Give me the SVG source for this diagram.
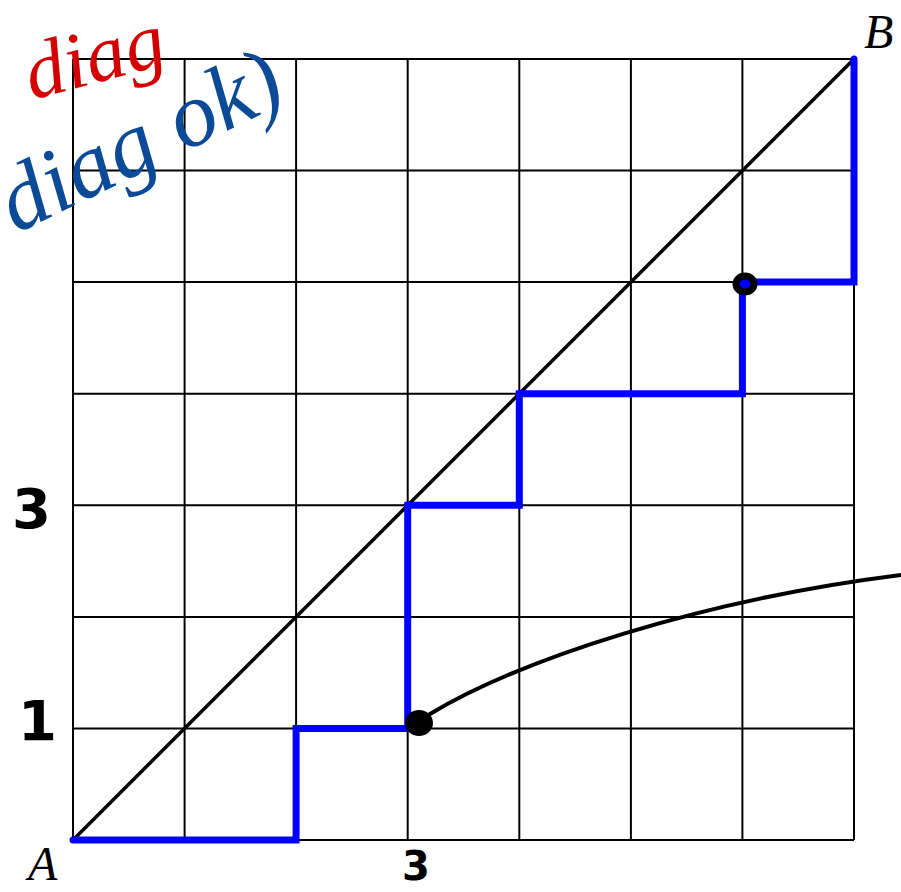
<svg xmlns="http://www.w3.org/2000/svg" width="901" height="892" viewBox="0 0 901 892">
<style>
.grid line{stroke:#000;stroke-width:2}
.lbl{font-family:"Liberation Serif",serif;font-style:italic;font-size:48px;fill:#000}
.hand{font-family:"DejaVu Sans","Liberation Sans",sans-serif;font-weight:bold;fill:#000}
.anno{font-family:"Liberation Serif",serif;font-style:italic}
</style>
<rect width="901" height="892" fill="#fff"/>
<g id="grid" class="grid">
<line x1="73" y1="59" x2="73" y2="840"/>
<line x1="184.6" y1="59" x2="184.6" y2="840"/>
<line x1="296.1" y1="59" x2="296.1" y2="840"/>
<line x1="407.7" y1="59" x2="407.7" y2="840"/>
<line x1="519.3" y1="59" x2="519.3" y2="840"/>
<line x1="630.9" y1="59" x2="630.9" y2="840"/>
<line x1="742.4" y1="59" x2="742.4" y2="840"/>
<line x1="854" y1="59" x2="854" y2="840"/>
<line x1="73" y1="59" x2="854" y2="59"/>
<line x1="73" y1="170.6" x2="854" y2="170.6"/>
<line x1="73" y1="282.1" x2="854" y2="282.1"/>
<line x1="73" y1="393.7" x2="854" y2="393.7"/>
<line x1="73" y1="505.3" x2="854" y2="505.3"/>
<line x1="73" y1="616.9" x2="854" y2="616.9"/>
<line x1="73" y1="728.4" x2="854" y2="728.4"/>
<line x1="73" y1="840" x2="854" y2="840"/>
</g>
<g id="connectors">
<line id="diagonal" x1="73" y1="840" x2="854" y2="59" stroke="#000" stroke-width="3.5"/>
<path id="staircase" d="M73,840 H296.1 V728.4 H407.7 V505.3 H519.3 V393.7 H742.4 V282.1 H854 V59" fill="none" stroke="#0000ff" stroke-width="7" stroke-linejoin="miter" stroke-linecap="round"/>
<path id="pointer" d="M430,714 C520,660 700,600 901,575" fill="none" stroke="#000" stroke-width="4" stroke-linecap="round"/>
</g>
<g id="dot-upper">
<ellipse cx="745" cy="284" rx="9" ry="8" fill="#0000ff" stroke="#000" stroke-width="7"/>
</g>
<g id="dot-lower">
<ellipse cx="419" cy="723" rx="12" ry="11" fill="#000" stroke="#000" stroke-width="4"/>
</g>
<g id="label-A"><text class="lbl" x="28" y="880">A</text></g>
<g id="label-B"><text class="lbl" x="864" y="48">B</text></g>
<g id="hand-numbers">
<text class="hand" x="12" y="528" font-size="56">3</text>
<text class="hand" x="18" y="740" font-size="56">1</text>
<text class="hand" x="402" y="880" font-size="40">3</text>
</g>
<g id="annotations">
<text class="anno" x="0" y="0" font-size="80" fill="#d40000" transform="translate(32,100) rotate(-15)">diag</text>
<text class="anno" x="0" y="0" font-size="92" fill="#0a4a96" transform="translate(16,234) rotate(-26)">diag ok)</text>
</g>
</svg>
